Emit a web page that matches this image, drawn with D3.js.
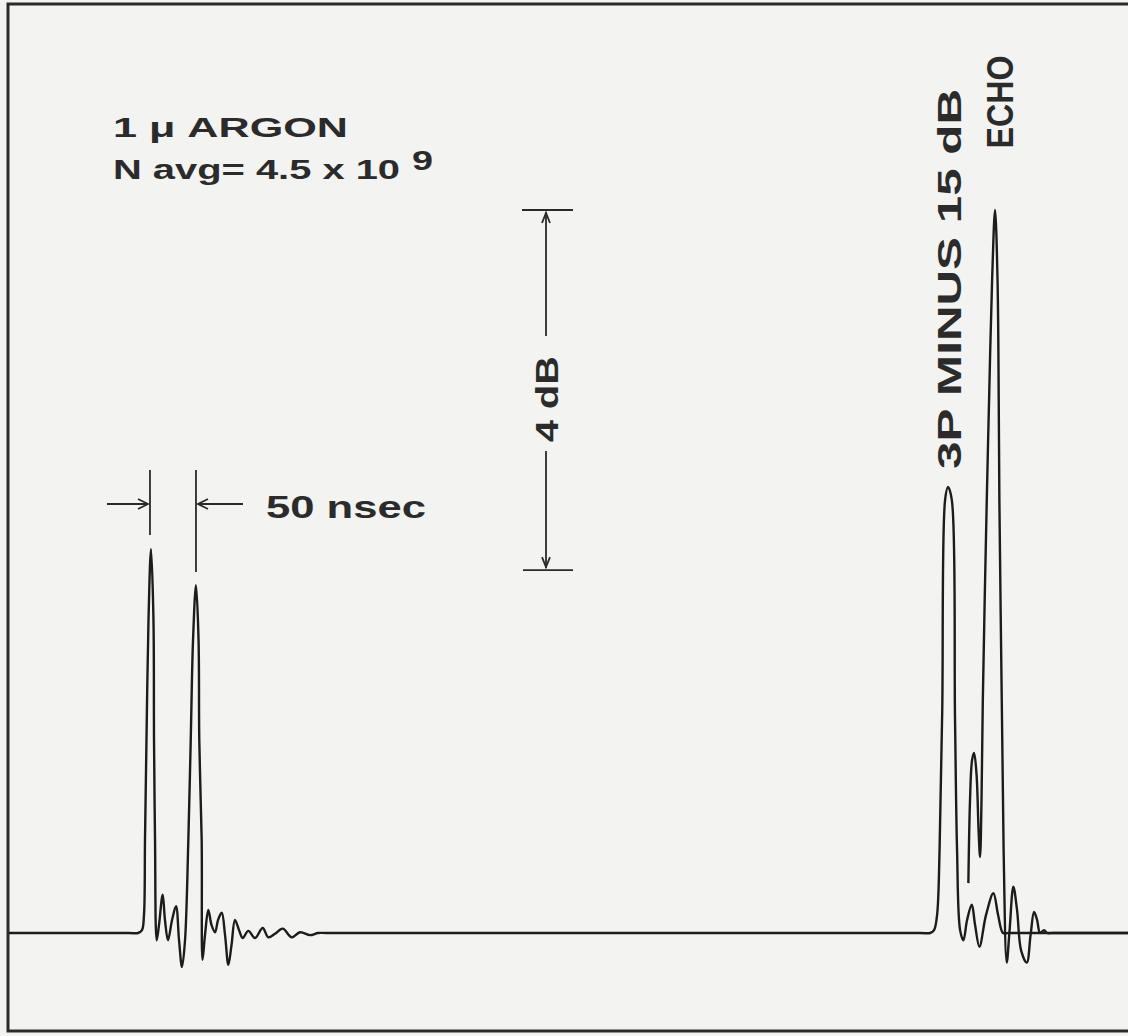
<!DOCTYPE html>
<html>
<head>
<meta charset="utf-8">
<script src="https://cdn.jsdelivr.net/npm/d3@7"></script>
<style>
  body { margin: 0; background: #f3f3f1; }
  .trace { fill: none; stroke: #1c1c1c; stroke-width: 2.4; stroke-linejoin: round; }
  .mark { fill: none; stroke: #2a2a2a; stroke-width: 1.8; }
  .label { font-family: "Liberation Sans", Arial, sans-serif; font-weight: bold; fill: #2b2b2b; }
</style>
</head>
<body>
<div id="chart"></div>
<script>
// **** THE DATA ****

// sweep 1: the two 1 uJ pulses and the 3P pulse (time in ns, amplitude relative to echo peak = 100)
const sweepTime = [0, 140, 150, 154.3, 156.5, 157.6, 159.2, 161.4, 164.1, 166.8, 167.4, 168.5, 170.3, 172.8, 176.8, 179.3, 182.6,
  187.0, 191.3, 194.6, 197.8, 201.1, 204.7, 207.3, 209.8, 213.0, 215.8, 216.6, 219.2, 220.1, 222.8, 226.4, 229.9,
  233.7, 237.0, 241.0, 244.6, 248.2, 251.6, 255.4, 259.8, 263.8, 269.9, 277.2, 285.5, 291.6, 298.9, 307.3, 317.1,
  326.1, 337.0, 345.7, 355, 1000, 1010.9, 1015.2, 1018.5, 1021.2, 1024.1, 1027.2, 1030.4, 1034.5, 1038.0, 1040.2, 1043.5,
  1047.1, 1051.1, 1056.2, 1059.8, 1064.5, 1071.7, 1079.7, 1084.8, 1090.2, 1096, 1200, 1226]
const sweepAmp = [0, 0, 0, 0.4, 2.5, 12.9, 26.7, 43.3, 53.1, 43.3, 26.7, 12.9, -1.0, 1.1, 5.3, 1.8, -1.0,
  1.8, 3.7, -1.0, -4.7, -1.0, 12.9, 26.7, 40.5, 48.1, 40.5, 26.7, 12.9, -3.7, -0.3, 3.2, 1.1,
  0.1, 1.8, 2.8, -0.3, -4.4, -1.7, 1.8, 0.4, -0.7, 0.3, -0.7, 0.7, -0.6, -0.1, 0.6, -0.6,
  0.1, -0.3, 0, 0, 0, 0, 0.4, 2.5, 11.5, 30.8, 59.9, 61.7, 59.9, 29.5, 11.5, 0.4,
  -1.0, 1.8, 3.9, 1.1, -1.9, 2.5, 5.5, 2.5, 0, 0, 0, 0]

// sweep 2: the echo, 15 dB down from 3P
const echoTime = [1052.5, 1054.3, 1056.5, 1058.7, 1061.4, 1063.6, 1065.2, 1066.8, 1068.2, 1072.5, 1075.0, 1078.3,
  1081.5, 1084.2, 1085.5, 1086.2, 1088.8, 1090.8, 1094.2, 1097.3, 1101.4, 1105.4, 1109.8, 1116.0, 1120.1,
  1123.9, 1127.2, 1130.4, 1134.8, 1138.0, 1145, 1200, 1226]
const echoAmp = [6.9, 18.4, 23.9, 24.9, 21.9, 14.2, 10.5, 18.4, 32.2, 59.9, 73.7, 90.3,
  100, 90.3, 73.7, 59.9, 32.2, 11.5, -4.1, 0.4, 6.4, 3.2, -2.4, -4.1, -0.3,
  2.9, 1.8, 0, 0.4, 0, 0, 0, 0]

// pulse spacing marker (ns) and level marker (amplitude)
const pulseMarks = [163, 213]
const levelMarks = [100, 50.2]

//------------------------------------------------------------------------------

// **** THE SETUP ****

const width = 1128
const height = 1036

const xScale = d3.scaleLinear()
    .domain([0, 1226])
    .range([0, width])

const yScale = d3.scaleLinear()
    .domain([0, 100])
    .range([933, 210])

const line = d3.line()
    .x((d) => xScale(d[0]))
    .y((d) => yScale(d[1]))
    .curve(d3.curveCatmullRom.alpha(0.5))

const sweep = sweepTime.map((t, i) => [t, sweepAmp[i]])
const echo = echoTime.map((t, i) => [t, echoAmp[i]])

//------------------------------------------------------------------------------

// **** PUT IT ON THE PAGE ****

const svg = d3.select("#chart").append("svg")
    .attr("width", width)
    .attr("height", height)

svg.append("rect")
    .attr("width", width)
    .attr("height", height)
    .attr("fill", "#f3f3f1")

svg.append("clipPath").attr("id", "frame")
  .append("rect")
    .attr("x", 9).attr("y", 6).attr("width", width).attr("height", 1023)

// frame (open on the right, cut off by the scan)
svg.append("rect")
    .attr("x", 8).attr("y", 4)
    .attr("width", width + 10).attr("height", 1027)
    .attr("fill", "none")
    .attr("stroke", "#2a2a2a")
    .attr("stroke-width", 3)

// --> TRACES
svg.append("path")
    .datum(sweep)
    .attr("class", "trace")
    .attr("clip-path", "url(#frame)")
    .attr("d", line)

svg.append("path")
    .datum(echo)
    .attr("class", "trace")
    .attr("clip-path", "url(#frame)")
    .attr("d", line)

// --> 50 nsec MARKER
const xa = xScale(pulseMarks[0])
const xb = xScale(pulseMarks[1])
const ym = 504

svg.append("line").attr("class", "mark")
    .attr("x1", xa).attr("x2", xa).attr("y1", 470).attr("y2", 535)
svg.append("line").attr("class", "mark")
    .attr("x1", xb).attr("x2", xb).attr("y1", 470).attr("y2", 572)

svg.append("line").attr("class", "mark")
    .attr("x1", xa - 43).attr("x2", xa - 2).attr("y1", ym).attr("y2", ym)
svg.append("path").attr("class", "mark")
    .attr("d", `M${xa - 12},${ym - 5}L${xa - 2},${ym}L${xa - 12},${ym + 5}`)

svg.append("line").attr("class", "mark")
    .attr("x1", xb + 2).attr("x2", xb + 47).attr("y1", ym).attr("y2", ym)
svg.append("path").attr("class", "mark")
    .attr("d", `M${xb + 12},${ym - 5}L${xb + 2},${ym}L${xb + 12},${ym + 5}`)

svg.append("text").attr("class", "label")
    .attr("x", 266).attr("y", 518)
    .attr("font-size", 32)
    .attr("textLength", 160).attr("lengthAdjust", "spacingAndGlyphs")
    .text("50 nsec")

// --> 4 dB MARKER
const xl = 546
const ytop = yScale(levelMarks[0])
const ybot = yScale(levelMarks[1])

svg.append("line").attr("class", "mark")
    .attr("x1", 522).attr("x2", 573).attr("y1", ytop).attr("y2", ytop)
svg.append("line").attr("class", "mark")
    .attr("x1", 523).attr("x2", 573).attr("y1", ybot).attr("y2", ybot)
svg.append("line").attr("class", "mark")
    .attr("x1", xl).attr("x2", xl).attr("y1", ytop + 2).attr("y2", 336)
svg.append("line").attr("class", "mark")
    .attr("x1", xl).attr("x2", xl).attr("y1", 451).attr("y2", ybot - 2)
svg.append("path").attr("class", "mark")
    .attr("d", `M${xl - 4},${ytop + 13}L${xl},${ytop + 3}L${xl + 4},${ytop + 13}`)
svg.append("path").attr("class", "mark")
    .attr("d", `M${xl - 4},${ybot - 13}L${xl},${ybot - 3}L${xl + 4},${ybot - 13}`)

svg.append("text").attr("class", "label")
    .attr("transform", "translate(558,399) rotate(-90)")
    .attr("text-anchor", "middle")
    .attr("font-size", 31)
    .attr("textLength", 86).attr("lengthAdjust", "spacingAndGlyphs")
    .text("4 dB")

// --> PEAK LABELS
svg.append("text").attr("class", "label")
    .attr("transform", "translate(961,279) rotate(-90)")
    .attr("text-anchor", "middle")
    .attr("font-size", 34)
    .attr("textLength", 380).attr("lengthAdjust", "spacingAndGlyphs")
    .text("3P MINUS 15 dB")

svg.append("text").attr("class", "label")
    .attr("transform", "translate(1013,102) rotate(-90)")
    .attr("text-anchor", "middle")
    .attr("font-size", 37)
    .attr("textLength", 93).attr("lengthAdjust", "spacingAndGlyphs")
    .text("ECHO")

// --> CONDITIONS
svg.append("text").attr("class", "label")
    .attr("x", 113).attr("y", 137)
    .attr("font-size", 27)
    .attr("textLength", 235).attr("lengthAdjust", "spacingAndGlyphs")
    .text("1 μ ARGON")

svg.append("text").attr("class", "label")
    .attr("x", 113).attr("y", 179)
    .attr("font-size", 28)
    .attr("textLength", 287).attr("lengthAdjust", "spacingAndGlyphs")
    .text("N avg= 4.5 x 10")

svg.append("text").attr("class", "label")
    .attr("x", 412).attr("y", 170)
    .attr("font-size", 28)
    .attr("textLength", 21).attr("lengthAdjust", "spacingAndGlyphs")
    .text("9")
</script>
</body>
</html>
